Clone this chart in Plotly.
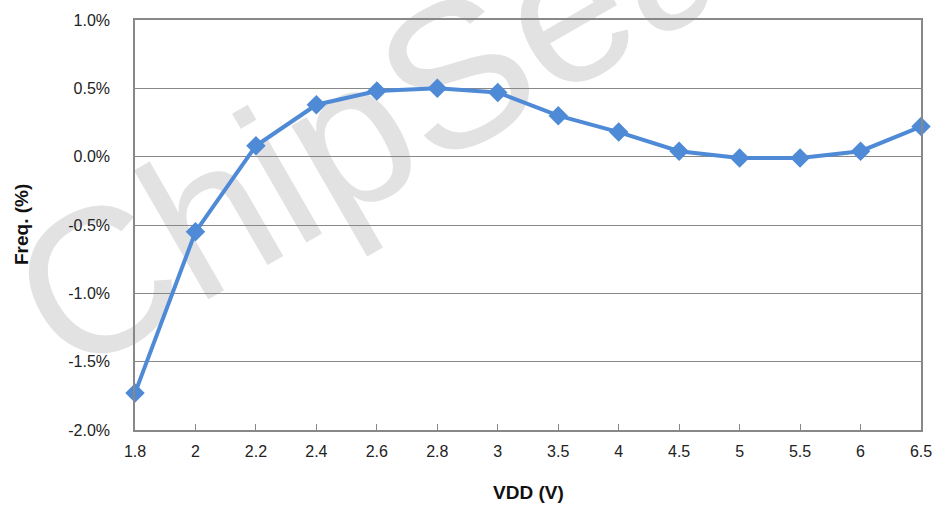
import plotly.graph_objects as go

# VDD (V) categories and frequency deviation (%)
vdd = ["1.8", "2", "2.2", "2.4", "2.6", "2.8", "3", "3.5", "4", "4.5", "5", "5.5", "6", "6.5"]
freq_pct = [-1.73, -0.55, 0.08, 0.38, 0.48, 0.50, 0.47, 0.30, 0.18, 0.04, -0.01, -0.01, 0.04, 0.22]

y_ticks = [-2.0, -1.5, -1.0, -0.5, 0.0, 0.5, 1.0]
y_labels = ["-2.0%", "-1.5%", "-1.0%", "-0.5%", "0.0%", "0.5%", "1.0%"]

LINE = "#4f8ad6"
AXIS = "#888888"
FONT = dict(family="Liberation Sans, Arial, sans-serif", color="#222222")

fig = go.Figure(go.Scatter(
    x=vdd,
    y=freq_pct,
    mode="lines+markers",
    line=dict(color=LINE, width=4),
    marker=dict(symbol="diamond", size=15, color=LINE),
    cliponaxis=False,
    showlegend=False,
))

fig.update_layout(
    width=944,
    height=508,
    paper_bgcolor="white",
    plot_bgcolor="white",
    font=FONT,
    margin=dict(l=135, r=14, t=16, b=78),
    xaxis=dict(
        type="category",
        range=[0, len(vdd) - 1],
        showgrid=False,
        showline=True, linecolor=AXIS, linewidth=1.5, mirror=True,
        ticks="inside", ticklen=6, tickcolor=AXIS,
        tickfont=dict(size=16),
        ticklabelstandoff=6,
    ),
    yaxis=dict(
        range=[-2.0, 1.0],
        tickvals=y_ticks,
        ticktext=y_labels,
        showgrid=True, gridcolor=AXIS, gridwidth=1,
        showline=True, linecolor=AXIS, linewidth=1.5, mirror=True,
        zeroline=False,
        ticks="", tickfont=dict(size=16),
        ticklabelstandoff=20,
    ),
    # watermark, drawn under the grid
    shapes=[dict(
        type="line", xref="paper", yref="paper",
        x0=0.26, y0=0.792, x1=0.32, y1=0.792,
        line=dict(width=0, color="rgba(0,0,0,0)"),
        layer="below",
        label=dict(
            text="ChipSea", textposition="middle", textangle=-30,
            xanchor="center", yanchor="middle",
            font=dict(size=205, color="#e2e2e2", family="Liberation Sans, Arial, sans-serif"),
        ),
    )],
    annotations=[
        dict(text="<b>Freq. (%)</b>", xref="paper", yref="paper",
             x=-0.145, y=0.5, xanchor="center", yanchor="middle",
             textangle=-90, showarrow=False, font=dict(size=19, color="#111111")),
        dict(text="<b>VDD (V)</b>", xref="paper", yref="paper",
             x=0.5, y=-0.152, xanchor="center", yanchor="middle",
             showarrow=False, font=dict(size=19, color="#111111")),
    ],
)

# page body has a default margin; drop it so the figure fills the window
fig.write_html("out.html", config={"displayModeBar": False},
               post_script="document.body.style.margin='0';")
